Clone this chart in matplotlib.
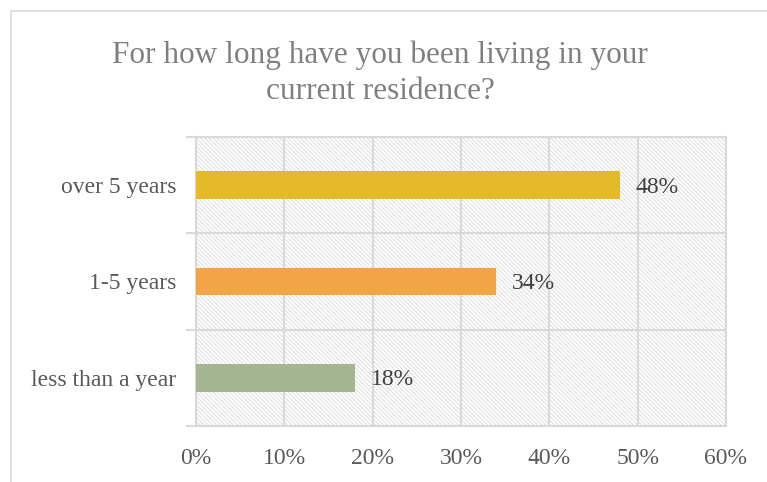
import matplotlib.pyplot as plt
from matplotlib.patches import Rectangle
from matplotlib.lines import Line2D

# Survey answers (bottom to top)
categories = ["less than a year", "1-5 years", "over 5 years"]
shares = [18, 34, 48]
colors = ["#A5B592", "#F3A447", "#E5BA2A"]
xticks = [0, 10, 20, 30, 40, 50, 60]

plt.rcParams['font.family'] = ['Liberation Serif', 'DejaVu Serif']
plt.rcParams['hatch.color'] = '#dedede'
plt.rcParams['hatch.linewidth'] = 0.7

fig = plt.figure(figsize=(7.67, 4.82), dpi=100)
ax = fig.add_axes([0.2555, 0.1162, 0.691, 0.5996])

# hatched plot background
bg = Rectangle((0, 0), 1, 1, transform=ax.transAxes, facecolor='white',
               edgecolor='#dedede', hatch='\\' * 8, linewidth=0, zorder=0)
ax.add_patch(bg)

ypos = range(len(categories))
ax.barh(ypos, shares, height=0.29, color=colors, zorder=3)
for y, v in zip(ypos, shares):
    ax.text(v + 1.8, y - 0.02, f"{v}%", va='center', ha='left', fontsize=17, color='#404040', zorder=4)

ax.set_xlim(0, 60)
ax.set_ylim(-0.5, 2.5)
ax.set_xticks(xticks)
ax.set_xticklabels([f"{t}%" for t in xticks], fontsize=17, color='#595959')
ax.set_yticks(list(ypos))
ax.set_yticklabels(categories, fontsize=17, color='#595959')
ax.set_yticks([-0.5, 0.5, 1.5, 2.5], minor=True)
ax.tick_params(axis='y', which='major', length=0, pad=14)
ax.tick_params(axis='y', which='minor', length=7, color='#d9d9d9', width=1.5)
ax.tick_params(axis='x', length=0, pad=16)

ax.grid(True, axis='x', color='#d9d9d9', linewidth=1.5, zorder=1)
ax.grid(True, axis='y', which='minor', color='#d9d9d9', linewidth=1.5, zorder=1)
for s in ax.spines.values():
    s.set_color('#d9d9d9')
    s.set_linewidth(1.5)
ax.set_axisbelow(True)

fig.text(0.496, 0.848, "For how long have you been living in your\ncurrent residence?",
         ha='center', va='center', fontsize=22.5, color='#7f7f7f', linespacing=1.3)

# outer chart border (cut off at right and bottom)
fig.add_artist(Line2D([11 / 767, 11 / 767], [0, 1 - 11 / 482], transform=fig.transFigure,
                      color='#d9d9d9', linewidth=1.2))
fig.add_artist(Line2D([11 / 767, 1], [1 - 11 / 482, 1 - 11 / 482], transform=fig.transFigure,
                      color='#d9d9d9', linewidth=1.2))

fig.savefig("out.png", dpi=100)
